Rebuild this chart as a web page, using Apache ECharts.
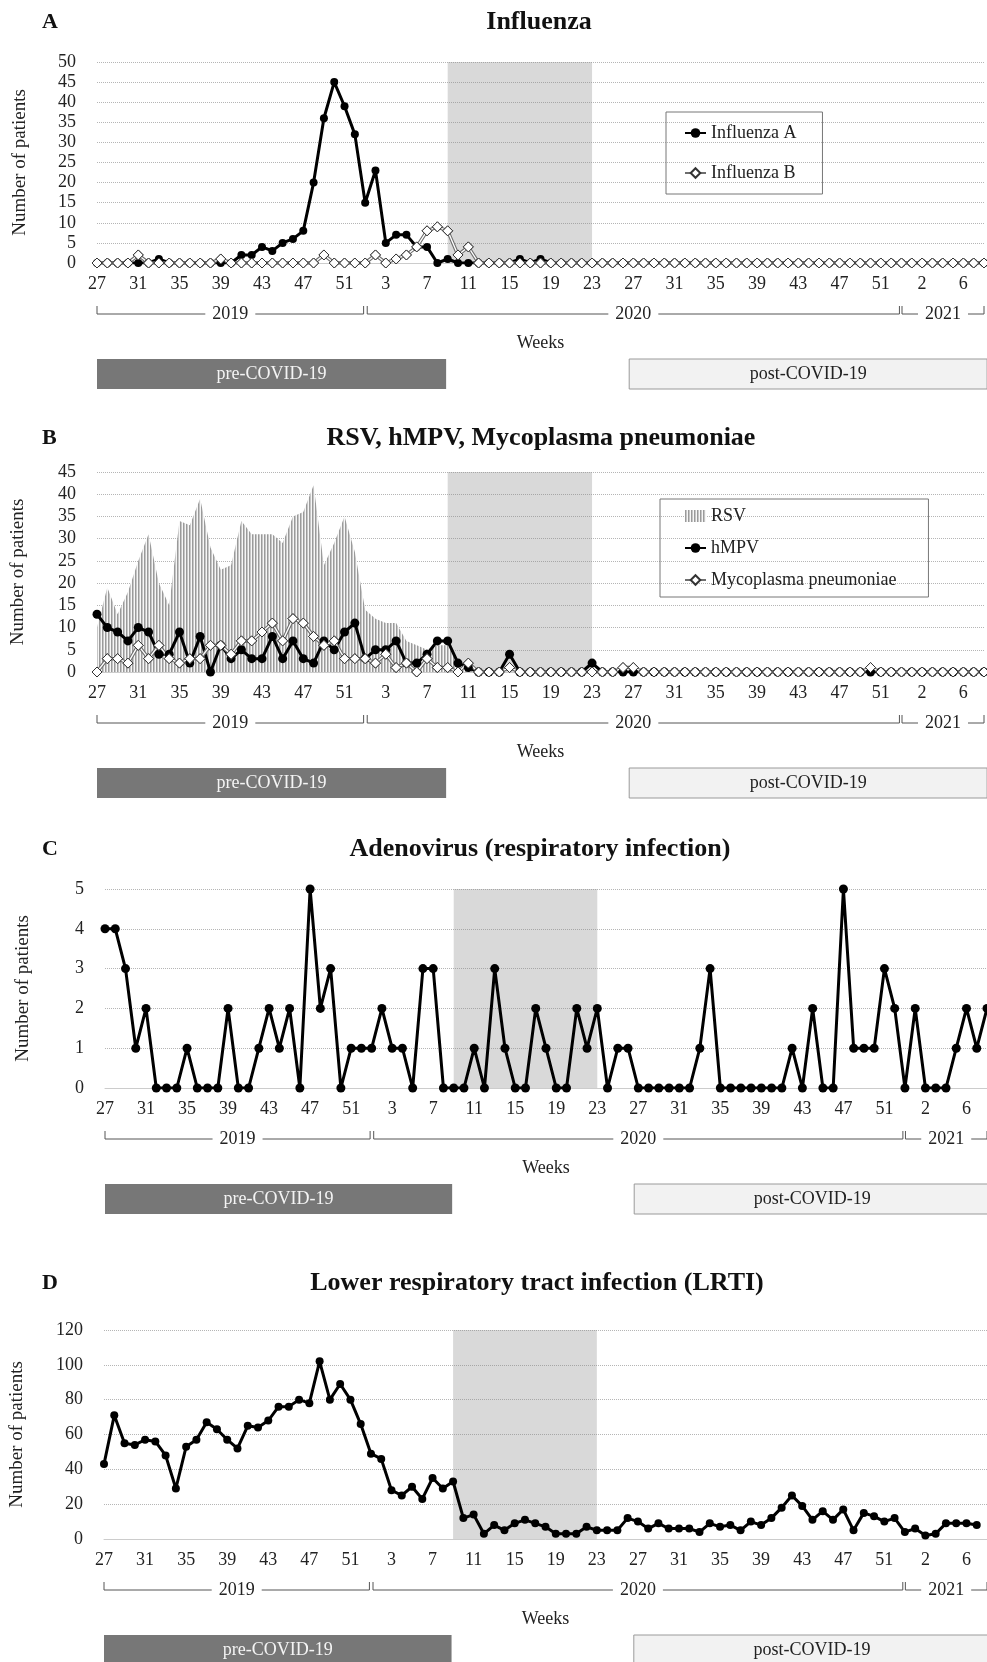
<!DOCTYPE html>
<html>
<head>
<meta charset="utf-8">
<title>Weekly respiratory infections 2019-2021</title>
<script src="https://cdn.jsdelivr.net/npm/echarts@6/dist/echarts.min.js"></script>
<style>
  html, body { margin: 0; padding: 0; background: #fff; }
  #chart { width: 987px; height: 1662px; }
</style>
</head>
<body>
<div id="chart"></div>
<script>
var SERIF = 'Liberation Serif';
var INK = '#222';

// week numbers on the axis, 2019 w27 .. 2021 w8
var weeks2019 = [27, 28, 29, 30, 31, 32, 33, 34, 35, 36, 37, 38, 39, 40, 41, 42, 43, 44, 45, 46, 47, 48, 49, 50, 51, 52];
var weeks2020 = [1, 2, 3, 4, 5, 6, 7, 8, 9, 10, 11, 12, 13, 14, 15, 16, 17, 18, 19, 20, 21, 22, 23, 24, 25, 26, 27,
  28, 29, 30, 31, 32, 33, 34, 35, 36, 37, 38, 39, 40, 41, 42, 43, 44, 45, 46, 47, 48, 49, 50, 51, 52, 53];
var weeks2021 = [1, 2, 3, 4, 5, 6, 7, 8];
var years = ['2019', '2020', '2021'];

var categories = weeks2019.map(function (w) { return '2019-' + w; })
  .concat(weeks2020.map(function (w) { return '2020-' + w; }))
  .concat(weeks2021.map(function (w) { return '2021-' + w; }));

// shaded period (first COVID-19 wave)
var shadeFrom = '2020-9';
var shadeTo = '2020-23';

// A: influenza
var fluA = [0, 0, 0, 0, 0, 0, 1, 0, 0, 0, 0, 0, 0, 0, 2, 2, 4, 3, 5, 6,
  8, 20, 36, 45, 39, 32, 15, 23, 5, 7, 7, 4, 4, 0, 1, 0, 0, 0, 0, 0,
  0, 1, 0, 1, 0, 0, 0, 0, 0, 0, 0, 0, 0, 0, 0, 0, 0, 0, 0, 0,
  0, 0, 0, 0, 0, 0, 0, 0, 0, 0, 0, 0, 0, 0, 0, 0, 0, 0, 0, 0,
  0, 0, 0, 0, 0, 0, 0];
var fluB = [0, 0, 0, 0, 2, 0, 0, 0, 0, 0, 0, 0, 1, 0, 0, 0, 0, 0, 0, 0,
  0, 0, 2, 0, 0, 0, 0, 2, 0, 1, 2, 4, 8, 9, 8, 2, 4, 0, 0, 0,
  0, 0, 0, 0, 0, 0, 0, 0, 0, 0, 0, 0, 0, 0, 0, 0, 0, 0, 0, 0,
  0, 0, 0, 0, 0, 0, 0, 0, 0, 0, 0, 0, 0, 0, 0, 0, 0, 0, 0, 0,
  0, 0, 0, 0, 0, 0, 0];

// B: RSV, hMPV, Mycoplasma pneumoniae
var rsv = [10, 19, 13, 18, 25, 31, 20, 15, 34, 33, 39, 28, 23, 24, 34, 31, 31, 31, 29, 35,
  36, 42, 24, 29, 35, 27, 14, 12, 11, 11, 7, 6, 5, 6, 6, 2, 1, 0, 0, 0,
  0, 0, 0, 0, 0, 0, 0, 0, 0, 0, 0, 0, 0, 0, 0, 0, 0, 0, 0, 0,
  0, 0, 0, 0, 0, 0, 0, 0, 0, 0, 0, 1, 0, 0, 0, 0, 0, 0, 0, 0,
  0, 0, 0, 0, 0, 0, 0];
var hmpv = [13, 10, 9, 7, 10, 9, 4, 4, 9, 2, 8, 0, 6, 3, 5, 3, 3, 8, 3, 7,
  3, 2, 7, 5, 9, 11, 3, 5, 5, 7, 2, 2, 4, 7, 7, 2, 1, 0, 0, 0,
  4, 0, 0, 0, 0, 0, 0, 0, 2, 0, 0, 0, 0, 0, 0, 0, 0, 0, 0, 0,
  0, 0, 0, 0, 0, 0, 0, 0, 0, 0, 0, 0, 0, 0, 0, 0, 0, 0, 0, 0,
  0, 0, 0, 0, 0, 0, 0];
var myco = [0, 3, 3, 2, 6, 3, 6, 3, 2, 3, 3, 6, 6, 4, 7, 7, 9, 11, 7, 12,
  11, 8, 6, 7, 3, 3, 3, 2, 4, 1, 2, 0, 3, 1, 1, 0, 2, 0, 0, 0,
  1, 0, 0, 0, 0, 0, 0, 0, 0, 0, 0, 1, 1, 0, 0, 0, 0, 0, 0, 0,
  0, 0, 0, 0, 0, 0, 0, 0, 0, 0, 0, 0, 0, 0, 0, 1, 0, 0, 0, 0,
  0, 0, 0, 0, 0, 0, 0];

// C: adenovirus
var adeno = [4, 4, 3, 1, 2, 0, 0, 0, 1, 0, 0, 0, 2, 0, 0, 1, 2, 1, 2, 0,
  5, 2, 3, 0, 1, 1, 1, 2, 1, 1, 0, 3, 3, 0, 0, 0, 1, 0, 3, 1,
  0, 0, 2, 1, 0, 0, 2, 1, 2, 0, 1, 1, 0, 0, 0, 0, 0, 0, 1, 3,
  0, 0, 0, 0, 0, 0, 0, 1, 0, 2, 0, 0, 5, 1, 1, 1, 3, 2, 0, 2,
  0, 0, 0, 1, 2, 1, 2];

// D: lower respiratory tract infection
var lrti = [43, 71, 55, 54, 57, 56, 48, 29, 53, 57, 67, 63, 57, 52, 65, 64, 68, 76, 76, 80,
  78, 102, 80, 89, 80, 66, 49, 46, 28, 25, 30, 23, 35, 29, 33, 12, 14, 3, 8, 5,
  9, 11, 9, 7, 3, 3, 3, 7, 5, 5, 5, 12, 10, 6, 9, 6, 6, 6, 4, 9,
  7, 8, 5, 10, 8, 12, 18, 25, 19, 11, 16, 11, 17, 5, 15, 13, 10, 12, 4, 6,
  2, 3, 9, 9, 9, 8];

// vertical stripe fill used for RSV
function stripes () {
  var c = document.createElement('canvas');
  c.width = 3; c.height = 3;
  var g = c.getContext('2d');
  g.fillStyle = '#f6f6f6'; g.fillRect(0, 0, 3, 3);
  g.fillStyle = '#9a9a9a'; g.fillRect(0, 0, 1, 3);
  g.fillStyle = '#c6c6c6'; g.fillRect(1, 0, 1, 3);
  return c;
}
var rsvFill = { image: stripes(), repeat: 'repeat' };

var txt = { fontFamily: SERIF, fontSize: 18, color: INK };

function weekAxis (gridIndex) {
  return {
    type: 'category', gridIndex: gridIndex, data: categories, boundaryGap: false,
    axisTick: { show: false },
    axisLine: { lineStyle: { color: '#cccccc', width: 1 } },
    axisLabel: {
      interval: 3, margin: 12, fontFamily: SERIF, fontSize: 18, color: INK,
      formatter: function (v) { return v.split('-')[1]; }
    },
    name: 'Weeks', nameLocation: 'middle', nameGap: 71, nameTextStyle: txt
  };
}

function countAxis (gridIndex, max, step, nameGap) {
  return {
    type: 'value', gridIndex: gridIndex, min: 0, max: max, interval: step,
    axisLine: { show: false }, axisTick: { show: false },
    axisLabel: { margin: 21, fontFamily: SERIF, fontSize: 18, color: INK },
    splitLine: { lineStyle: { color: '#b5b5b5', type: 'dotted', width: 1 } },
    name: 'Number of patients', nameLocation: 'middle', nameRotate: 90, nameGap: nameGap,
    nameTextStyle: { fontFamily: SERIF, fontSize: 19, color: INK }
  };
}

function shade () {
  return {
    silent: true,
    itemStyle: { color: 'rgba(140,140,140,0.33)' },
    data: [[{ xAxis: shadeFrom }, { xAxis: shadeTo }]]
  };
}

function dotLine (name, k, data, size, extra) {
  var s = {
    name: name, type: 'line', xAxisIndex: k, yAxisIndex: k, data: data,
    symbol: 'circle', symbolSize: size, showAllSymbol: true,
    lineStyle: { color: '#000', width: 3 },
    itemStyle: { color: '#000' }
  };
  return Object.assign(s, extra || {});
}

// hollow line with diamonds: grey wide stroke, then white core on top
function hollowLine (name, k, data) {
  var diamond = { color: '#fff', borderColor: '#333', borderWidth: 1 };
  return [{
    name: name, type: 'line', xAxisIndex: k, yAxisIndex: k, data: data,
    symbol: 'diamond', symbolSize: 10, showAllSymbol: true,
    lineStyle: { color: '#6e6e6e', width: 3.5 },
    itemStyle: diamond
  }, {
    name: name + ' core', type: 'line', xAxisIndex: k, yAxisIndex: k, data: data,
    symbol: 'diamond', symbolSize: 10, showAllSymbol: true, silent: true,
    lineStyle: { color: '#fff', width: 1.3 },
    itemStyle: diamond
  }];
}

function heading (letter, text, top, center) {
  return [
    { text: letter, left: 42, top: top, padding: 0,
      textStyle: { fontFamily: SERIF, fontSize: 22, fontWeight: 'bold', color: '#111' } },
    { text: text, left: center, top: top - 2, padding: 0, textAlign: 'center',
      textStyle: { fontFamily: SERIF, fontSize: 26, fontWeight: 'bold', color: '#111' } }
  ];
}

var chart = echarts.init(document.getElementById('chart'));

chart.setOption({
  animation: false,
  backgroundColor: '#fff',
  title: [].concat(
    heading('A', 'Influenza', 11, 539),
    heading('B', 'RSV, hMPV, Mycoplasma pneumoniae', 427, 541),
    heading('C', 'Adenovirus (respiratory infection)', 838, 540),
    heading('D', 'Lower respiratory tract infection (LRTI)', 1272, 537)
  ),
  grid: [
    { left: 97, top: 62, width: 887, height: 201 },
    { left: 97, top: 472, width: 887, height: 200 },
    { left: 105, top: 889, width: 885, height: 199 },
    { left: 103, top: 1330, width: 889, height: 209 }
  ],
  xAxis: [weekAxis(0), weekAxis(1), weekAxis(2), weekAxis(3)],
  yAxis: [
    countAxis(0, 50, 5, 67),
    countAxis(1, 45, 5, 69),
    countAxis(2, 5, 1, 72),
    countAxis(3, 120, 20, 77)
  ],
  legend: [{
    data: ['Influenza A', 'Influenza B'],
    orient: 'vertical', left: 666, top: 112,
    itemWidth: 21, itemHeight: 12, itemGap: 22, padding: [12, 26, 12, 18],
    borderColor: '#777', borderWidth: 1, selectedMode: false,
    textStyle: txt
  }, {
    data: [
      { name: 'RSV', icon: 'rect', itemStyle: { color: rsvFill, borderWidth: 0 } },
      'hMPV', 'Mycoplasma pneumoniae'
    ],
    orient: 'vertical', left: 660, top: 499,
    itemWidth: 21, itemHeight: 12, itemGap: 14, padding: [8, 32, 8, 24],
    borderColor: '#777', borderWidth: 1, selectedMode: false,
    textStyle: txt
  }],
  series: [].concat(
    [dotLine('Influenza A', 0, fluA, 8, { markArea: shade() })],
    hollowLine('Influenza B', 0, fluB),
    [{
      name: 'RSV', type: 'line', xAxisIndex: 1, yAxisIndex: 1, data: rsv, z: 2,
      symbol: 'none', lineStyle: { width: 0 }, itemStyle: { color: '#aaa' },
      areaStyle: { color: rsvFill, opacity: 1 },
      markArea: shade()
    }],
    [dotLine('hMPV', 1, hmpv, 9)],
    hollowLine('Mycoplasma pneumoniae', 1, myco),
    [dotLine('Adenovirus', 2, adeno, 9, { markArea: shade() })],
    [dotLine('LRTI', 3, lrti, 8, { markArea: shade() })]
  )
});

// year brackets and study-period boxes under each panel, placed from the axis scale
var yearSpans = [[0, 25.85], [26.2, 77.8], [78.05, 86]];
var preSpan = [0, 33.85];
var postSpan = [51.6, 86.3];

var graphics = [];
[0, 1, 2, 3].forEach(function (k) {
  var x0 = chart.convertToPixel({ xAxisIndex: k }, 0);
  var step = chart.convertToPixel({ xAxisIndex: k }, 1) - x0;
  var y0 = chart.convertToPixel({ yAxisIndex: k }, 0);
  var xAt = function (f) { return x0 + f * step; };
  var yb = y0 + 51;
  yearSpans.forEach(function (s, j) {
    var a = xAt(s[0]), b = xAt(s[1]);
    graphics.push({
      type: 'polyline', silent: true,
      shape: { points: [[a, yb - 8], [a, yb], [b, yb], [b, yb - 8]] },
      style: { stroke: '#555', lineWidth: 1, fill: null }
    });
    graphics.push({
      type: 'text', silent: true, x: (a + b) / 2, y: yb,
      style: {
        text: years[j], fill: INK, font: '18px "Liberation Serif"',
        align: 'center', verticalAlign: 'middle', backgroundColor: '#fff', padding: [0, 7]
      }
    });
  });
  var by = y0 + 96;
  var pa = xAt(preSpan[0]), pb = xAt(preSpan[1]);
  graphics.push({
    type: 'rect', silent: true,
    shape: { x: pa, y: by, width: pb - pa, height: 30 },
    style: { fill: '#777777' }
  });
  graphics.push({
    type: 'text', silent: true, x: (pa + pb) / 2, y: by + 15,
    style: { text: 'pre-COVID-19', fill: '#f4f4f4', font: '18px "Liberation Serif"', align: 'center', verticalAlign: 'middle' }
  });
  var qa = xAt(postSpan[0]), qb = xAt(postSpan[1]);
  graphics.push({
    type: 'rect', silent: true,
    shape: { x: qa, y: by, width: qb - qa, height: 30 },
    style: { fill: '#f2f2f2', stroke: '#9a9a9a', lineWidth: 1 }
  });
  graphics.push({
    type: 'text', silent: true, x: (qa + qb) / 2, y: by + 15,
    style: { text: 'post-COVID-19', fill: INK, font: '18px "Liberation Serif"', align: 'center', verticalAlign: 'middle' }
  });
});
chart.setOption({ graphic: graphics });
</script>
</body>
</html>
